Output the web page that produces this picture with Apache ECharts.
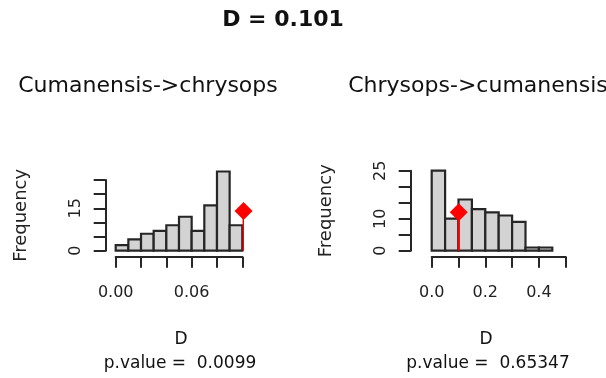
<!DOCTYPE html>
<html>
<head>
<meta charset="utf-8">
<script src="https://cdn.jsdelivr.net/npm/echarts@6/dist/echarts.min.js"></script>
<style>html,body{margin:0;padding:0;background:#fff}#c{width:606px;height:378px}</style>
</head>
<body>
<div id="c"></div>
<script>
// ---- data ----
const mainTitle = 'D = 0.101';
const leftTitle = 'Cumanensis->chrysops';
const rightTitle = 'Chrysops->cumanensis';
const leftBreaks = [0, 0.01, 0.02, 0.03, 0.04, 0.05, 0.06, 0.07, 0.08, 0.09, 0.10];
const leftCounts = [2, 4, 6, 7, 9, 12, 7, 16, 28, 9];
const rightBreaks = [0, 0.05, 0.10, 0.15, 0.20, 0.25, 0.30, 0.35, 0.40, 0.45];
const rightCounts = [25, 10, 16, 13, 12, 11, 9, 1, 1];
const observedD = 0.101;
const leftObsHeight = 14;
const rightObsHeight = 12;
const leftPValue = 'p.value =  0.0099';
const rightPValue = 'p.value =  0.65347';
const leftXLabels = ['0.00', '0.06'];
const rightXLabels = ['0.0', '0.2', '0.4'];
const leftYLabels = [0, 15];
const rightYLabels = [0, 10, 25];

// ---- build ----
const FONT = 'DejaVu Sans';
const AX = '#262626';
function histData(breaks, counts) {
  return counts.map((c, i) => [breaks[i], breaks[i + 1], c]);
}
function renderBar(params, api) {
  const p0 = api.coord([api.value(0), 0]);
  const p1 = api.coord([api.value(1), api.value(2)]);
  return {
    type: 'rect',
    shape: { x: p0[0], y: p1[1], width: p1[0] - p0[0], height: p0[1] - p1[1] },
    style: { fill: '#d3d3d3', stroke: '#262626', lineWidth: 2.2 }
  };
}
function xAxisCfg(idx, max, interval, labels, dec) {
  return {
    type: 'value', gridIndex: idx, min: 0, max: max, interval: interval,
    offset: 6,
    axisLine: { show: true, onZero: false, lineStyle: { color: AX, width: 2 } },
    axisTick: { show: true, length: 11, lineStyle: { color: AX, width: 2 } },
    splitLine: { show: false },
    axisLabel: {
      margin: 28, color: '#222', fontFamily: FONT, fontSize: 16,
      showMinLabel: true, showMaxLabel: true,
      formatter: v => { const s = (+v).toFixed(dec); return labels.indexOf(s) >= 0 ? s : ''; }
    }
  };
}
function yAxisCfg(idx, labels, offset) {
  return {
    type: 'value', gridIndex: idx, min: 0, max: 25, interval: 5,
    offset: offset,
    name: 'Frequency', nameLocation: 'middle', nameRotate: 90, nameGap: 75,
    nameTextStyle: { fontFamily: FONT, fontSize: 18, color: '#222' },
    axisLine: { show: true, onZero: false, lineStyle: { color: AX, width: 2 } },
    axisTick: { show: true, length: 12, lineStyle: { color: AX, width: 2 } },
    splitLine: { show: false },
    axisLabel: {
      margin: 22, rotate: 90, color: '#222', fontFamily: FONT, fontSize: 16,
      showMinLabel: true, showMaxLabel: true,
      formatter: v => labels.indexOf(Math.round(v)) >= 0 ? String(Math.round(v)) : ''
    }
  };
}
function txt(text, x, y, size, bold) {
  return {
    text: text, left: x, top: y - size / 2, textAlign: 'center', padding: 0,
    textStyle: { fontFamily: FONT, fontSize: size, fontWeight: bold ? 'bold' : 'normal', color: '#111', lineHeight: size }
  };
}

const chart = echarts.init(document.getElementById('c'), null, { renderer: 'canvas' });
chart.setOption({
  animation: false,
  backgroundColor: '#ffffff',
  title: [
    txt(mainTitle, 283, 20, 22, true),
    txt(leftTitle, 148, 86, 22, false),
    txt(rightTitle, 478, 86, 22, false),
    txt('D', 181, 340, 17, false),
    txt('D', 486, 340, 17, false),
    txt(leftPValue, 180, 364, 17, false),
    txt(rightPValue, 488, 364, 17, false)
  ],
  grid: [
    { left: 115.7, top: 180, width: 126.6, height: 70.7 },
    { left: 431.7, top: 170.7, width: 134, height: 80 }
  ],
  xAxis: [
    xAxisCfg(0, 0.10, 0.02, leftXLabels, 2),
    xAxisCfg(1, 0.5, 0.1, rightXLabels, 1)
  ],
  yAxis: [
    yAxisCfg(0, leftYLabels, 10),
    yAxisCfg(1, rightYLabels, 21)
  ],
  series: [
    { type: 'custom', xAxisIndex: 0, yAxisIndex: 0, clip: false, renderItem: renderBar,
      encode: { x: [0, 1], y: 2 }, data: histData(leftBreaks, leftCounts) },
    { type: 'custom', xAxisIndex: 1, yAxisIndex: 1, clip: false, renderItem: renderBar,
      encode: { x: [0, 1], y: 2 }, data: histData(rightBreaks, rightCounts) },
    { type: 'line', xAxisIndex: 0, yAxisIndex: 0, symbol: 'none', clip: false,
      lineStyle: { color: '#ff0000', width: 2 }, data: [[observedD, 0], [observedD, leftObsHeight]] },
    { type: 'line', xAxisIndex: 1, yAxisIndex: 1, symbol: 'none', clip: false,
      lineStyle: { color: '#ff0000', width: 2 }, data: [[observedD, 0], [observedD, rightObsHeight]] },
    { type: 'scatter', xAxisIndex: 0, yAxisIndex: 0, symbol: 'diamond', symbolSize: 18, clip: false,
      itemStyle: { color: '#ff0000', opacity: 1 }, data: [[observedD, leftObsHeight]] },
    { type: 'scatter', xAxisIndex: 1, yAxisIndex: 1, symbol: 'diamond', symbolSize: 18, clip: false,
      itemStyle: { color: '#ff0000', opacity: 1 }, data: [[observedD, rightObsHeight]] }
  ]
});
</script>
</body>
</html>
